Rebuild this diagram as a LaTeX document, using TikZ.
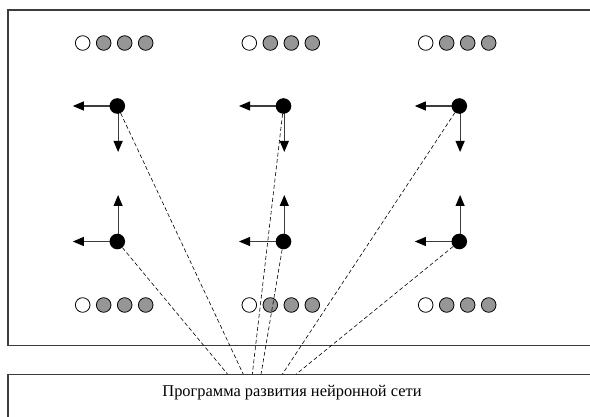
\documentclass[tikz,border=0pt]{standalone}
\usepackage{fontspec}
\setmainfont{Liberation Serif}
\usetikzlibrary{arrows.meta}
\definecolor{ballgray}{RGB}{150,150,150}
\definecolor{linegray}{RGB}{60,60,60}
\tikzset{
  frame/.style={draw=linegray,line width=1.2pt},
  openball/.style={circle,draw=black,line width=0.8pt,fill=white,minimum size=14.6pt,inner sep=0pt},
  grayball/.style={circle,draw=black,line width=0.8pt,fill=ballgray,minimum size=14.6pt,inner sep=0pt},
  neuron/.style={circle,fill=black,minimum size=15.6pt,inner sep=0pt},
  growarrow/.style={draw=linegray,line width=1.1pt,-{Triangle[length=11pt,width=9pt,color=black]}},
  link/.style={draw=black,line width=0.6pt,dash pattern=on 4pt off 2.5pt},
}
\begin{document}
\begin{tikzpicture}[x=1pt,y=-1pt]
\useasboundingbox (0,0) rectangle (590,417);
% frames
\draw[frame] (600,10) -- (8,10) -- (8,345.7) -- (600,345.7);
\draw[frame] (600,374.3) -- (8,374.3) -- (8,430);
\node[font=\fontsize{16.4}{19}\selectfont] (prog) at (292,393) {Программа развития нейронной сети};
% rows of balls
\foreach \c/\x in {a/82.7,b/249.3,c/425.7}{
  \foreach \r/\y in {t/43,b/305}{
    \node[openball] (\c\r1) at (\x,\y) {};
    \node[grayball] (\c\r2) at (\x+21,\y) {};
    \node[grayball] (\c\r3) at (\x+42,\y) {};
    \node[grayball] (\c\r4) at (\x+63,\y) {};
  }
}
% neurons and growth arrows
\foreach \c/\x in {a/117.3,b/283.5,c/459.3}{
  \coordinate (\c uL) at (\x-44.5,106);
  \coordinate (\c uD) at (\x+0.8,152);
  \coordinate (\c lL) at (\x-44.5,241.5);
  \coordinate (\c lU) at (\x+0.8,195);
  \draw[growarrow] (\x,106) -- (\c uL);
  \draw[growarrow] (\x+0.8,106) -- (\c uD);
  \draw[growarrow] (\x,241.5) -- (\c lL);
  \draw[growarrow] (\x+0.8,241.5) -- (\c lU);
  \node[neuron] (\c u) at (\x,106) {};
  \node[neuron] (\c l) at (\x,241.5) {};
}
% links to program
\coordinate (e1) at (227.7,374.3);
\coordinate (e2) at (243.3,374.3);
\coordinate (e3) at (252.3,374.3);
\coordinate (e4) at (261,374.3);
\coordinate (e5) at (282.3,374.3);
\coordinate (e6) at (296,374.3);
\draw[link] (al) -- (e1);
\draw[link] (au) -- (e2);
\draw[link] (bu) -- (e3);
\draw[link] (bl) -- (e4);
\draw[link] (cu) -- (e5);
\draw[link] (cl) -- (e6);
\end{tikzpicture}
\end{document}
